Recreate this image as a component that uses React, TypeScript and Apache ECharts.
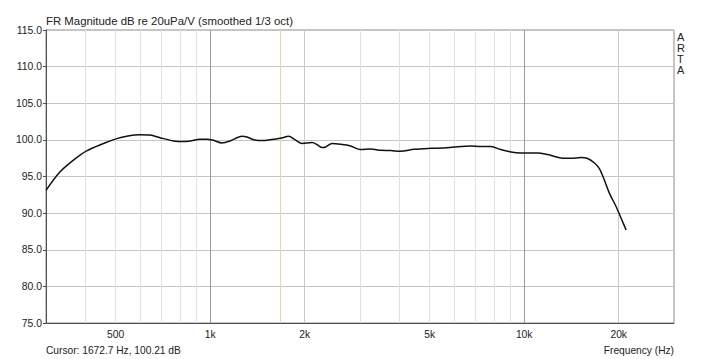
import React, { useEffect, useRef } from "react";
import * as echarts from "echarts";

const freqHz = [300, 332, 366, 404, 457, 504, 542, 598, 643, 692, 764, 822, 863, 929, 976, 1025, 1090, 1158, 1262, 1310, 1375, 1462, 1592, 1673, 1778, 1867, 1962, 2112, 2190, 2272, 2330, 2445, 2600, 2798, 3012, 3244, 3489, 3753, 4040, 4457, 5040, 5556, 5980, 6758, 7273, 7830, 8425, 9070, 9760, 11030, 11880, 13100, 14100, 15170, 15930, 16740, 17360, 18010, 18690, 19630, 20360, 21120];
const magDb = [93.1, 95.6, 97.2, 98.5, 99.5, 100.17, 100.5, 100.7, 100.66, 100.3, 99.85, 99.77, 99.85, 100.1, 100.1, 99.94, 99.58, 99.85, 100.5, 100.4, 100.03, 99.9, 100.1, 100.21, 100.48, 100.0, 99.5, 99.63, 99.36, 98.95, 99.03, 99.5, 99.4, 99.17, 98.68, 98.76, 98.58, 98.54, 98.44, 98.72, 98.85, 98.9, 99.03, 99.17, 99.08, 99.08, 98.68, 98.35, 98.22, 98.22, 97.99, 97.53, 97.49, 97.58, 97.45, 96.85, 96.09, 94.5, 92.7, 90.87, 89.29, 87.7];

const gridFreqs = [400, 500, 600, 700, 800, 900, 1000, 2000, 3000, 4000, 5000, 6000, 7000, 8000, 9000, 10000, 20000];
const decadeFreqs = [1000, 10000];
const midFreqs = [2000, 20000];
const freqTickLabels: Record<number, string> = { 500: "500", 1000: "1k", 2000: "2k", 5000: "5k", 10000: "10k", 20000: "20k" };

const cursorFreq = 1672.7;
const cursorDb = 100.21;

const FONT = "'Liberation Sans', Arial, sans-serif";

export default function App() {
  const ref = useRef<HTMLDivElement>(null);
  useEffect(() => {
    if (!ref.current) return;
    const chart = echarts.init(ref.current, null, { renderer: "svg" });
    const gridMarks: any[] = gridFreqs.map((f) => {
      const color = decadeFreqs.includes(f) ? "#9a9a9a" : midFreqs.includes(f) ? "#cacaca" : "#e0e0e0";
      const lbl = freqTickLabels[f];
      return {
        xAxis: f,
        lineStyle: { color, width: 1, type: "solid" },
        label: lbl
          ? { show: true, position: "start", formatter: lbl, color: "#222", fontSize: 10.3, fontFamily: FONT, distance: 6 }
          : { show: false },
      };
    });
    gridMarks.push({
      xAxis: cursorFreq,
      lineStyle: { color: "#f0d98a", width: 1, type: "solid" },
      label: { show: false },
    });
    chart.setOption({
      animation: false,
      backgroundColor: "#ffffff",
      textStyle: { fontFamily: FONT },
      grid: { left: 46, right: 46, top: 30, bottom: 36, show: true, borderColor: "#8c8c8c", borderWidth: 1, containLabel: false },
      xAxis: {
        type: "log",
        logBase: 10,
        min: 300,
        max: 30000,
        axisLabel: { show: false },
        axisTick: { show: false },
        splitLine: { show: false },
        axisLine: { show: true, lineStyle: { color: "#505050", width: 1 } },
      },
      yAxis: {
        type: "value",
        min: 75,
        max: 115,
        interval: 5,
        axisLabel: { formatter: (v: number) => v.toFixed(1), color: "#222", fontSize: 10.4, fontFamily: FONT, margin: 4 },
        axisTick: { show: true, length: 3, lineStyle: { color: "#505050" } },
        axisLine: { show: true, lineStyle: { color: "#505050", width: 1 } },
        splitLine: { show: true, lineStyle: { color: "#c4c4c4", width: 1 } },
      },
      graphic: [
        { type: "text", left: 46, top: 15, style: { text: "FR Magnitude dB re 20uPa/V (smoothed 1/3 oct)", font: `11.4px ${FONT}`, fill: "#222" } },
        { type: "text", left: 46, top: 345, style: { text: `Cursor: ${cursorFreq.toFixed(1)} Hz, ${cursorDb.toFixed(2)} dB`, font: `10.2px ${FONT}`, fill: "#222" } },
        { type: "text", right: 46, top: 345, style: { text: "Frequency (Hz)", font: `10.2px ${FONT}`, fill: "#222" } },
        { type: "text", left: 677, top: 31, style: { text: "A\nR\nT\nA", font: `11px ${FONT}`, fill: "#222", lineHeight: 11 } },
      ],
      series: [
        {
          type: "line",
          data: [],
          silent: true,
          markLine: { silent: true, symbol: ["none", "none"], z: 1, animation: false, data: gridMarks },
        },
        {
          type: "line",
          z: 3,
          data: freqHz.map((f, i) => [f, magDb[i]]),
          showSymbol: false,
          smooth: 0.3,
          lineStyle: { color: "#111", width: 1.5 },
        },
      ],
    });
    return () => chart.dispose();
  }, []);
  return <div ref={ref} style={{ width: 720, height: 359, position: "absolute", left: 0, top: 0 }} />;
}
